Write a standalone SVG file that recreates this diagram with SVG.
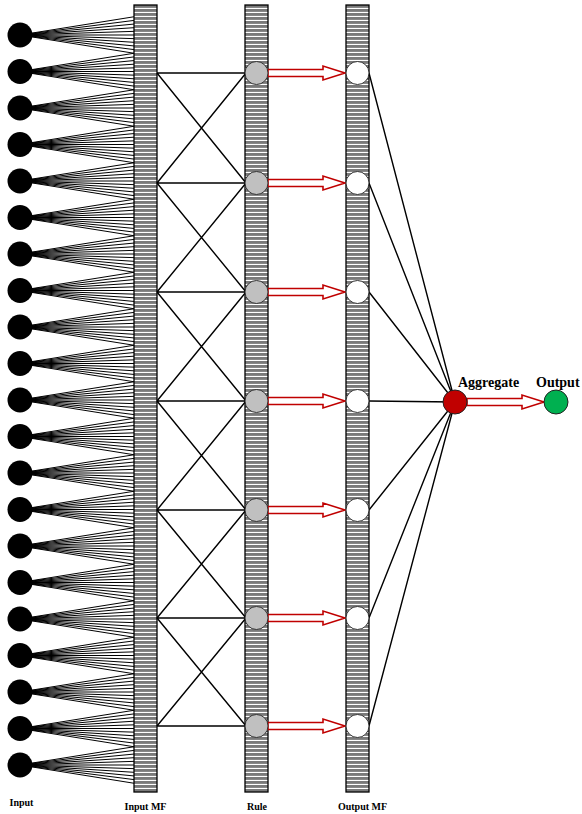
<svg xmlns="http://www.w3.org/2000/svg" xmlns:xlink="http://www.w3.org/1999/xlink" width="582" height="814" viewBox="0 0 582 814">
<style>
.bar{fill:url(#stripes);stroke:#000;stroke-width:1.3}
.ln{stroke:#000;stroke-width:1.4;fill:none}
.fan{stroke:#000;stroke-width:1;fill:none}
.arr{fill:#fff;stroke:#c00000;stroke-width:1.6}
.inp{fill:#000}
.rule{fill:#c0c0c0;stroke:#333;stroke-width:1}
.omf{fill:#fff;stroke:#333;stroke-width:1}
.lbl{font-family:"Liberation Serif","Times New Roman",serif;font-weight:bold;fill:#000}
</style>
<defs>
<pattern id="stripes" patternUnits="userSpaceOnUse" width="30" height="4" y="5">
<rect x="0" y="0" width="30" height="4" fill="#7a7a7a"/>
<rect x="0" y="2.9" width="30" height="1.1" fill="#fff"/>
</pattern>
<path id="fanp" class="fan" d="M20 0L134 -18.25M20 0L134 -14.6M20 0L134 -10.95M20 0L134 -7.3M20 0L134 -3.65M20 0L134 0M20 0L134 3.65M20 0L134 7.3M20 0L134 10.95M20 0L134 14.6M20 0L134 18.25"/>
<path id="arrow" class="arr" d="M0 -3.5L55 -3.5L55 -7L77 0L55 7L55 3.5L0 3.5Z"/>
</defs>
<g id="bars">
<rect id="inputmf-bar" class="bar" x="134" y="5" width="23" height="787"/>
<rect id="rule-bar" class="bar" x="245" y="5" width="23" height="787"/>
<rect id="outputmf-bar" class="bar" x="346" y="5" width="23" height="787"/>
</g>
<g id="connectors">
<use href="#fanp" y="35"/>
<use href="#fanp" y="71.5"/>
<use href="#fanp" y="108"/>
<use href="#fanp" y="144.5"/>
<use href="#fanp" y="181"/>
<use href="#fanp" y="217.5"/>
<use href="#fanp" y="254"/>
<use href="#fanp" y="290.5"/>
<use href="#fanp" y="327"/>
<use href="#fanp" y="363.5"/>
<use href="#fanp" y="400"/>
<use href="#fanp" y="436.5"/>
<use href="#fanp" y="473"/>
<use href="#fanp" y="509.5"/>
<use href="#fanp" y="546"/>
<use href="#fanp" y="582.5"/>
<use href="#fanp" y="619"/>
<use href="#fanp" y="655.5"/>
<use href="#fanp" y="692"/>
<use href="#fanp" y="728.5"/>
<use href="#fanp" y="765"/>
<path class="ln" d="M157 73H246M157 183H246M157 292H246M157 401H246M157 510H246M157 618H246M157 726H246
M157 73L246 183M157 183L246 73
M157 183L246 292M157 292L246 183
M157 292L246 401M157 401L246 292
M157 401L246 510M157 510L246 401
M157 510L246 618M157 618L246 510
M157 618L246 726M157 726L246 618"/>
<path class="ln" d="M369 73L455 402M369 183L455 402M369 292L455 402M369 401L455 402M369 510L455 402M369 618L455 402M369 726L455 402"/>
<use href="#arrow" x="268" y="73"/>
<use href="#arrow" x="268" y="183"/>
<use href="#arrow" x="268" y="292"/>
<use href="#arrow" x="268" y="401"/>
<use href="#arrow" x="268" y="510"/>
<use href="#arrow" x="268" y="618"/>
<use href="#arrow" x="268" y="726"/>
<use href="#arrow" x="467" y="402"/>
</g>
<g id="inputs">
<circle class="inp" cx="20" cy="35" r="12.5"/>
<circle class="inp" cx="20" cy="71.5" r="12.5"/>
<circle class="inp" cx="20" cy="108" r="12.5"/>
<circle class="inp" cx="20" cy="144.5" r="12.5"/>
<circle class="inp" cx="20" cy="181" r="12.5"/>
<circle class="inp" cx="20" cy="217.5" r="12.5"/>
<circle class="inp" cx="20" cy="254" r="12.5"/>
<circle class="inp" cx="20" cy="290.5" r="12.5"/>
<circle class="inp" cx="20" cy="327" r="12.5"/>
<circle class="inp" cx="20" cy="363.5" r="12.5"/>
<circle class="inp" cx="20" cy="400" r="12.5"/>
<circle class="inp" cx="20" cy="436.5" r="12.5"/>
<circle class="inp" cx="20" cy="473" r="12.5"/>
<circle class="inp" cx="20" cy="509.5" r="12.5"/>
<circle class="inp" cx="20" cy="546" r="12.5"/>
<circle class="inp" cx="20" cy="582.5" r="12.5"/>
<circle class="inp" cx="20" cy="619" r="12.5"/>
<circle class="inp" cx="20" cy="655.5" r="12.5"/>
<circle class="inp" cx="20" cy="692" r="12.5"/>
<circle class="inp" cx="20" cy="728.5" r="12.5"/>
<circle class="inp" cx="20" cy="765" r="12.5"/>
</g>
<g id="rules">
<circle class="rule" cx="256.5" cy="73" r="11.5"/>
<circle class="rule" cx="256.5" cy="183" r="11.5"/>
<circle class="rule" cx="256.5" cy="292" r="11.5"/>
<circle class="rule" cx="256.5" cy="401" r="11.5"/>
<circle class="rule" cx="256.5" cy="510" r="11.5"/>
<circle class="rule" cx="256.5" cy="618" r="11.5"/>
<circle class="rule" cx="256.5" cy="726" r="11.5"/>
</g>
<g id="outputmfs">
<circle class="omf" cx="357.5" cy="73" r="11.5"/>
<circle class="omf" cx="357.5" cy="183" r="11.5"/>
<circle class="omf" cx="357.5" cy="292" r="11.5"/>
<circle class="omf" cx="357.5" cy="401" r="11.5"/>
<circle class="omf" cx="357.5" cy="510" r="11.5"/>
<circle class="omf" cx="357.5" cy="618" r="11.5"/>
<circle class="omf" cx="357.5" cy="726" r="11.5"/>
</g>
<g id="aggregate">
<circle cx="455" cy="402" r="12" fill="#c00000" stroke="#222" stroke-width="1"/>
<text class="lbl" x="458" y="387" font-size="14">Aggregate</text>
</g>
<g id="output">
<circle cx="556" cy="402" r="12" fill="#00b050" stroke="#222" stroke-width="1"/>
<text class="lbl" x="536" y="387" font-size="14">Output</text>
</g>
<g id="labels">
<text class="lbl" x="21.5" y="806" font-size="10" text-anchor="middle">Input</text>
<text class="lbl" x="145.5" y="810" font-size="10" text-anchor="middle">Input MF</text>
<text class="lbl" x="257" y="810" font-size="10" text-anchor="middle">Rule</text>
<text class="lbl" x="362.5" y="810" font-size="10" text-anchor="middle">Output MF</text>
</g>
</svg>
